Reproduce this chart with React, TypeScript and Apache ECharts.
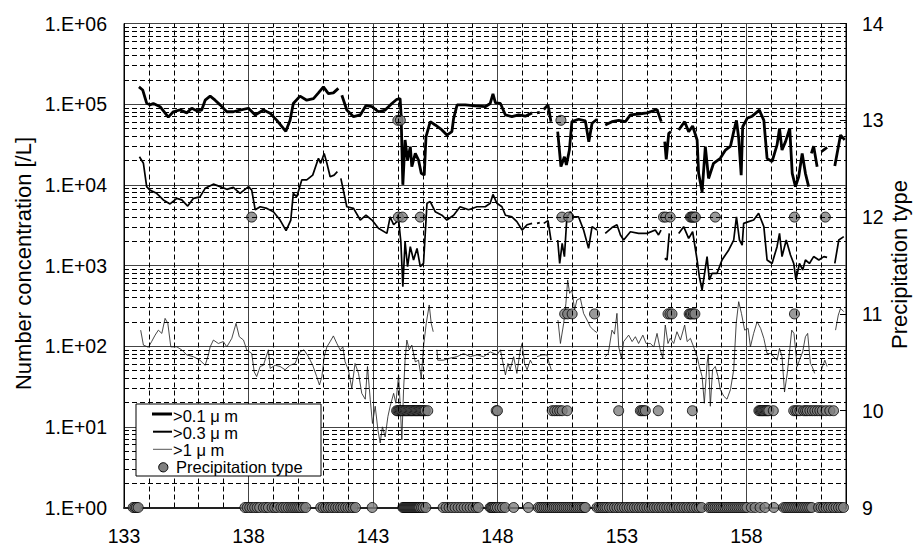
import React, { useEffect, useRef } from "react";
import * as echarts from "echarts";

// ---- axis settings ----
const xMin = 133;
const xMax = 162;
const xMajorStep = 5;
const yDecades = [1, 10, 100, 1000, 10000, 100000, 1000000];
const precipTicks = [9, 10, 11, 12, 13, 14];

// ---- >0.1 µm (time, number concentration [/L]); null = gap ----
const seriesA: [number, number | null][] = [
  [133.6, 1.64e5], [133.75, 1.5e5], [133.91, 1.03e5], [134.04, 9.8e4], [134.18, 1.02e5], [134.45, 9.3e4],
  [134.78, 6.9e4], [134.98, 8.05e4], [135.25, 8.5e4], [135.52, 7.8e4], [135.72, 8.9e4], [135.92, 8.3e4],
  [136.12, 8.45e4], [136.26, 1.12e5], [136.46, 1.26e5], [136.66, 1.12e5], [136.86, 9.8e4], [137.13, 8.05e4],
  [137.39, 8.05e4], [137.66, 8.45e4], [138.0, 8.9e4], [138.27, 7.35e4], [138.6, 8.45e4], [138.87, 7.7e4],
  [139.14, 6.3e4], [139.5, 4.6e4], [139.67, 6.3e4], [139.8, 1.02e5], [140.07, 1.26e5], [140.34, 1.12e5],
  [140.61, 1.17e5], [140.81, 1.38e5], [141.01, 1.64e5], [141.21, 1.35e5], [141.41, 1.38e5], [141.61, 1.57e5],
  [141.68, null], [141.75, 1.29e5], [141.95, 8.45e4], [142.22, 7.0e4], [142.49, 7.35e4], [142.72, 9.6e4],
  [142.96, 9.3e4], [143.22, 8.05e4], [143.49, 8.45e4], [143.76, 1.02e5], [143.96, 1.15e5], [144.09, 1.17e5],
  [144.13, 7.35e4], [144.2, 1.0e4], [144.29, 3.6e4], [144.39, 2.03e4], [144.5, 2.97e4], [144.56, 1.68e4],
  [144.7, 2.45e4], [144.83, 2.03e4], [144.94, 1.39e4], [145.06, 1.32e4], [145.13, 3.94e4], [145.3, 6.07e4],
  [145.5, 5.52e4], [145.77, 4.79e4], [145.97, 4.14e4], [146.17, 4.56e4], [146.24, 6.68e4], [146.38, 9.8e4],
  [146.71, 9.8e4], [147.11, 9.5e4], [147.51, 9.3e4], [147.71, 1.02e5], [147.82, 1.34e5], [147.92, 1.04e5],
  [148.12, 1.02e5], [148.32, 7.35e4], [148.58, 7.0e4], [148.85, 7.35e4], [149.12, 7.1e4], [149.39, 7.8e4],
  [149.48, null], [149.59, 7.8e4], [149.7, 7.9e4], [149.78, null], [149.86, 8.6e4], [150.03, 9.8e4],
  [150.15, 6.07e4], [150.3, null], [150.42, 4.56e4], [150.55, 1.68e4], [150.69, 2.23e4], [150.77, 1.76e4],
  [150.89, 2.7e4], [150.99, 6.07e4], [151.26, 6.5e4], [151.53, 6.2e4], [151.67, 3.43e4], [151.8, 5.8e4],
  [152.0, 6.5e4], [152.2, null], [152.33, 5.52e4], [152.6, 6.07e4], [152.87, 6.3e4], [153.14, 6.07e4],
  [153.34, 7.35e4], [153.67, 7.55e4], [154.01, 7.8e4], [154.41, 8.6e4], [154.58, 6.07e4], [154.65, null],
  [154.72, 3.43e4], [154.78, 2.07e4], [154.88, 4.35e4], [154.97, 4.57e4], [155.1, null], [155.28, 4.79e4],
  [155.52, 6.07e4], [155.68, 4.56e4], [155.84, 5.37e4], [156.02, 3.6e4], [156.08, 1.39e4], [156.22, 8.2e3],
  [156.35, 2.97e4], [156.48, 1.2e4], [156.68, 1.85e4], [156.95, 2.13e4], [157.16, 2.7e4], [157.36, 3.02e4],
  [157.49, 4.56e4], [157.6, 6.3e4], [157.69, 3.78e4], [157.79, 1.32e4], [157.85, 5.25e4], [158.03, 6.68e4],
  [158.23, 7.1e4], [158.52, 8.45e4], [158.7, 6.3e4], [158.83, 2.13e4], [159.03, 1.94e4], [159.23, 3.12e4],
  [159.33, 5.0e4], [159.43, 2.7e4], [159.57, 3.43e4], [159.74, 5.0e4], [159.84, 1.39e4], [159.97, 9.5e3],
  [160.1, 1.26e4], [160.24, 2.45e4], [160.37, 1.39e4], [160.5, 9.5e3], [160.55, null], [160.61, 2.45e4],
  [160.7, 3.02e4], [160.84, 1.68e4], [160.92, null], [161.01, 2.57e4], [161.24, 2.92e4], [161.4, null],
  [161.55, 1.71e4], [161.78, 4.14e4], [161.95, 3.6e4],
];

// ---- >0.3 µm ----
const seriesB: [number, number | null][] = [
  [133.62, 2.23e4], [133.78, 1.85e4], [133.91, 9.5e3], [134.04, 8.6e3], [134.31, 7.85e3], [134.58, 6.5e3],
  [134.85, 5.8e3], [135.12, 6.8e3], [135.32, 6.5e3], [135.56, 5.45e3], [135.79, 6.8e3], [136.05, 7.1e3],
  [136.26, 9.05e3], [136.59, 1.02e4], [136.86, 9.5e3], [137.13, 8.8e3], [137.39, 9.3e3], [137.66, 7.85e3],
  [138.0, 9.5e3], [138.13, 8.6e3], [138.27, 4.9e3], [138.47, 5.35e3], [138.74, 5.1e3], [139.0, 4.65e3],
  [139.27, 3.66e3], [139.51, 2.7e3], [139.7, 3.66e3], [139.8, 7.85e3], [139.94, 7.1e3], [140.14, 1.15e4],
  [140.34, 1.15e4], [140.58, 1.32e4], [140.81, 2.13e4], [140.9, 1.85e4], [141.04, 2.45e4], [141.15, 1.85e4],
  [141.28, 1.26e4], [141.44, 1.32e4], [141.57, 1.46e4], [141.64, null], [141.71, 1.2e4], [141.95, 5.35e3],
  [142.22, 5.1e3], [142.49, 3.66e3], [142.72, 4.2e3], [142.96, 3.66e3], [143.22, 2.9e3], [143.56, 2.5e3],
  [143.69, 4.0e3], [143.83, 3.2e3], [144.03, 3.66e3], [144.12, 1.97e3], [144.2, 546], [144.29, 1.97e3],
  [144.39, 966], [144.5, 1.71e3], [144.63, 1.17e3], [144.77, 1.63e3], [144.9, 966], [145.03, 1.06e3],
  [145.17, 5.9e3], [145.3, 6.2e3], [145.5, 4.65e3], [145.77, 4.2e3], [145.97, 3.66e3], [146.24, 4.2e3],
  [146.5, 5.35e3], [146.84, 4.9e3], [147.18, 5.35e3], [147.51, 5.35e3], [147.71, 5.9e3], [147.82, 7.6e3],
  [147.98, 5.9e3], [148.18, 5.35e3], [148.32, 4.2e3], [148.58, 4.0e3], [148.78, 3.5e3], [148.99, 2.75e3],
  [149.19, 3.2e3], [149.39, 3.33e3], [149.48, null], [149.59, 3.33e3], [149.7, 3.4e3], [149.78, null],
  [149.86, 3.33e3], [150.03, 3.6e3], [150.15, 2.07e3], [150.3, null], [150.42, 2.07e3], [150.5, 1.06e3],
  [150.6, 1.88e3], [150.69, 1.29e3], [150.79, 4.0e3], [150.93, 4.65e3], [151.06, 4.0e3], [151.26, 4.0e3],
  [151.46, 2.75e3], [151.66, 1.63e3], [151.8, 3.03e3], [152.0, 2.75e3], [152.2, null], [152.33, 2.5e3],
  [152.6, 2.95e3], [152.8, 3.2e3], [152.94, 2.39e3], [153.07, 2.07e3], [153.34, 2.62e3], [153.67, 2.5e3],
  [154.01, 2.5e3], [154.34, 2.75e3], [154.47, 2.39e3], [154.57, 2.75e3], [154.65, null], [154.72, 1.23e3],
  [154.81, 1.17e3], [154.9, 2.5e3], [155.1, null], [155.28, 2.5e3], [155.48, 3.03e3], [155.68, 2.17e3],
  [155.84, 2.62e3], [156.02, 1.17e3], [156.11, 726], [156.22, 497], [156.32, 800], [156.42, 1.29e3],
  [156.51, 661], [156.62, 800], [156.82, 800], [157.02, 1.17e3], [157.29, 1.56e3], [157.49, 2.07e3],
  [157.6, 4.0e3], [157.72, 2.07e3], [157.83, 1.79e3], [157.89, 3.33e3], [158.09, 3.5e3], [158.29, 3.66e3],
  [158.49, 4.44e3], [158.7, 3.03e3], [158.83, 1.17e3], [159.03, 1.06e3], [159.23, 1.71e3], [159.33, 2.5e3],
  [159.43, 1.29e3], [159.6, 2.07e3], [159.77, 1.35e3], [159.9, 1.06e3], [159.99, 661], [160.13, 1.06e3],
  [160.26, 880], [160.37, 1.17e3], [160.53, 1.06e3], [160.7, 1.29e3], [160.91, 1.17e3], [161.11, 1.29e3],
  [161.24, 1.26e3], [161.4, null], [161.55, 1.06e3], [161.71, 2.07e3], [161.91, 2.28e3],
];

// ---- >1 µm ----
const seriesC: [number, number | null][] = [
  [133.67, 158], [133.78, 103], [133.98, 97], [134.11, 114], [134.25, 137], [134.38, 158], [134.52, 144],
  [134.65, 221], [134.76, 192], [134.88, 98], [135.12, 98], [135.32, 90], [135.52, 78], [135.79, 74],
  [136.05, 67], [136.26, 58], [136.39, 78], [136.46, 98], [136.59, 119], [136.79, 108], [136.99, 114],
  [137.13, 98], [137.33, 125], [137.5, 192], [137.63, 131], [137.8, 119], [137.93, 90], [138.13, 81],
  [138.23, 48], [138.33, 42], [138.47, 56], [138.6, 58], [138.8, 90], [138.87, 53], [139.07, 58],
  [139.27, 56], [139.47, 51], [139.67, 58], [139.87, 61], [140.07, 85], [140.23, 90], [140.41, 74],
  [140.58, 58], [140.74, 42], [140.85, 33], [140.95, 42], [141.04, 74], [141.15, 98], [141.28, 114],
  [141.41, 134], [141.55, 108], [141.68, 90], [141.79, 98], [141.88, 64], [142.01, 51], [142.15, 30],
  [142.28, 61], [142.42, 46], [142.55, 26], [142.69, 22], [142.78, 56], [142.89, 22], [142.98, 11],
  [143.09, 18], [143.2, 9.1], [143.29, 6.3], [143.38, 10], [143.49, 7.5], [143.6, 13.4], [143.69, 18],
  [143.83, 26], [143.92, 19.6], [144.03, 44], [144.09, 19.6], [144.16, 6.9], [144.23, 29], [144.29, 67],
  [144.36, 119], [144.46, 90], [144.56, 103], [144.7, 64], [144.83, 67], [144.94, 40], [145.03, 98],
  [145.14, 192], [145.26, 324], [145.34, 192], [145.42, 151], [145.5, null], [145.57, 90], [145.6, 67],
  [145.83, 67], [146.1, 71], [146.37, 74], [146.64, 81], [146.91, 74], [147.18, 78], [147.44, 74],
  [147.71, 85], [147.98, 78], [148.12, 90], [148.2, 67], [148.32, 44], [148.42, 61], [148.51, 51],
  [148.65, 74], [148.78, 46], [148.92, 90], [148.99, 108], [149.09, 61], [149.19, 51], [149.32, 67],
  [149.39, 61], [149.48, null], [149.59, 74], [149.79, 78], [149.99, 78], [150.08, 61], [150.16, 51],
  [150.3, null], [150.43, 211], [150.53, 108], [150.66, 192], [150.75, 340], [150.82, 661], [150.9, 452],
  [150.99, 497], [151.1, 281], [151.19, 373], [151.33, 392], [151.46, 255], [151.6, 211], [151.73, 174],
  [151.86, 158], [152.0, 147], [152.2, null], [152.33, 74], [152.45, 81], [152.6, 158], [152.7, 141],
  [152.8, 255], [152.87, 98], [152.98, 71], [153.07, 114], [153.27, 137], [153.41, 114], [153.54, 131],
  [153.67, 108], [153.84, 137], [153.97, 108], [154.14, 108], [154.28, 98], [154.41, 144], [154.54, 90],
  [154.64, 71], [154.74, 183], [154.85, 108], [154.94, 125], [155.08, 108], [155.21, 151], [155.35, 119],
  [155.52, 183], [155.62, 114], [155.75, 125], [155.88, 98], [156.02, 74], [156.11, 56], [156.22, 42],
  [156.31, 19.6], [156.42, 61], [156.47, 79], [156.55, 18], [156.64, 51], [156.75, 56], [156.86, 42],
  [156.95, 29], [157.09, 24], [157.22, 22], [157.36, 29], [157.49, 51], [157.59, 192], [157.69, 356],
  [157.8, 255], [157.93, 158], [158.07, 166], [158.16, 98], [158.29, 144], [158.43, 201], [158.57, 166],
  [158.7, 125], [158.83, 81], [158.97, 81], [159.1, 74], [159.23, 67], [159.33, 94], [159.43, 74],
  [159.53, 27], [159.64, 46], [159.74, 90], [159.82, 158], [159.91, 144], [160.04, 56], [160.13, 67],
  [160.26, 85], [160.37, 131], [160.46, 144], [160.57, 61], [160.64, 56], [160.74, 46], [160.85, null],
  [161.01, 51], [161.15, 67], [161.24, 56], [161.4, null], [161.58, 158], [161.69, 243], [161.78, 294],
  [161.91, 268],
];

// ---- precipitation type observations (times for each type value) ----
const type9Times = [
  133.37, 133.44, 133.5, 133.57,
  137.86, 137.95, 138.05, 138.15, 138.25, 138.35, 138.45, 138.6, 138.7, 138.8, 138.95, 139.05, 139.15,
  139.3, 139.4, 139.5, 139.6, 139.7, 139.78, 139.86, 139.94, 140.02, 140.1, 140.2, 140.3,
  140.9, 141.0, 141.1, 141.2, 141.3, 141.4, 141.5, 141.6, 141.7, 141.8, 141.9, 142.0, 142.1, 142.2, 142.3,
  142.97,
  144.2, 144.24, 144.28, 144.32, 144.36, 144.4, 144.44, 144.48, 144.52, 144.56, 144.6, 144.64, 144.68,
  144.72, 144.76, 144.8, 144.84, 144.88, 144.95, 145.02, 145.12,
  145.82, 145.94, 146.06, 146.18, 146.3, 146.42, 146.54, 146.66, 146.78, 146.9, 147.02, 147.14, 147.23,
  147.71, 147.76, 147.81, 147.86, 147.92, 148.0, 148.1, 148.2, 148.31,
  148.65, 149.24,
  149.64, 149.72, 149.8, 149.88, 149.96, 150.04, 150.12, 150.2, 150.28, 150.36, 150.44, 150.52, 150.6,
  150.68, 150.76, 150.84, 150.92, 151.0, 151.08, 151.16, 151.24, 151.32, 151.4, 151.48, 151.53,
  152.0, 152.08, 152.16, 152.24, 152.32, 152.4, 152.5, 152.6, 152.7, 152.8, 152.9, 153.0, 153.1, 153.2,
  153.3, 153.4, 153.5, 153.6, 153.7, 153.8, 153.9, 154.0, 154.1, 154.2, 154.3, 154.4, 154.5, 154.6,
  154.7, 154.8, 154.9, 155.0, 155.1, 155.2, 155.3, 155.4, 155.5, 155.6, 155.7, 155.8, 155.9, 156.0,
  156.1, 156.2, 156.5, 156.58, 156.66, 156.74, 156.82, 156.9, 156.98, 157.06, 157.14, 157.22, 157.3,
  157.38, 157.46, 157.54, 157.62, 157.7, 157.78, 157.86, 157.94, 158.02, 158.2, 158.35, 158.55, 158.75,
  159.1,
  159.5, 159.58, 159.66, 159.74, 159.82, 159.9, 159.98, 160.06, 160.14, 160.22, 160.3, 160.38, 160.46,
  160.54, 160.62,
  160.9, 161.0, 161.1, 161.2, 161.3, 161.4, 161.5, 161.6, 161.7, 161.8, 161.9,
];
const type10Times = [
  143.95, 144.0, 144.05, 144.1, 144.15, 144.2, 144.25, 144.3, 144.35, 144.4, 144.45, 144.5, 144.55,
  144.6, 144.65, 144.7, 144.75, 144.8, 144.85, 144.9, 144.95, 145.0, 145.05, 145.1, 145.2,
  147.95, 148.0,
  150.2, 150.3, 150.4, 150.5, 150.6, 150.8,
  152.87, 153.74, 153.8, 153.87, 153.94, 154.46, 155.83,
  158.5, 158.55, 158.6, 158.65, 158.7, 158.75, 158.8, 158.85, 158.9, 159.08,
  159.9, 159.98, 160.05, 160.15, 160.3, 160.38, 160.45, 160.55, 160.65, 160.75, 160.85, 160.95, 161.05,
  161.2, 161.35, 161.5,
];
const type11Times = [150.7, 150.82, 151.0, 151.9, 154.85, 154.93, 155.01, 155.7, 155.75, 155.8, 155.87, 155.93, 159.93];
const type12Times = [138.13, 144.02, 144.18, 144.9, 150.59, 150.86, 154.67, 154.76, 154.94, 155.75, 155.8, 155.85, 155.9, 155.95, 156.75, 159.93, 161.17];
const type13Times = [144.0, 144.1, 150.55];
const precipLevels: [number, number[]][] = [
  [9, type9Times],
  [10, type10Times],
  [11, type11Times],
  [12, type12Times],
  [13, type13Times],
];

const FONT = "'Liberation Sans', Arial, Helvetica, sans-serif";
const LZ = 100;

export default function App() {
  const ref = useRef<HTMLDivElement>(null);

  useEffect(() => {
    if (!ref.current) return;
    const chart = echarts.init(ref.current, null, { renderer: "svg" });

    const toLine = (s: [number, number | null][]) => s.map(([t, v]) => [t, v == null ? "-" : v]);

    // minor grid positions (dashed), excluding positions of major lines
    const xMinor: number[] = [];
    for (let t = xMin + 1; t < xMax; t++) {
      if ((t - xMin) % xMajorStep !== 0) xMinor.push(t);
    }
    const yMinor: number[] = [];
    for (let k = 0; k < yDecades.length - 1; k++) {
      for (let m = 2; m <= 9; m++) yMinor.push(m * yDecades[k]);
    }

    const precipData: number[][] = [];
    precipLevels.forEach(([lvl, times]) => times.forEach((t) => precipData.push([t, lvl])));

    const legendX = 136;
    const legendY = 404;
    const legendText = (text: string, x: number, y: number) => ({
      type: "text",
      z: LZ + 2,
      x,
      y,
      style: { text, fontSize: 16.5, fontFamily: FONT, fill: "#000", verticalAlign: "middle" },
    });

    chart.setOption({
      animation: false,
      backgroundColor: "#ffffff",
      textStyle: { fontFamily: FONT },
      grid: {
        left: 124,
        right: 68,
        top: 23.5,
        bottom: 37.5,
        containLabel: false,
        outerBoundsMode: "none",
        show: true,
        borderColor: "#000",
        borderWidth: 1,
        backgroundColor: "transparent",
      },
      xAxis: [
        {
          type: "value",
          min: xMin,
          max: xMax,
          interval: xMajorStep,
          axisLine: { show: true, lineStyle: { color: "#222", width: 2 } },
          axisTick: { show: false },
          axisLabel: {
            color: "#000",
            fontSize: 19.5,
            fontFamily: FONT,
            margin: 18,
            showMaxLabel: false,
          },
          splitLine: { show: true, lineStyle: { color: "#444", width: 1, type: "solid" } },
        },
      ],
      yAxis: [
        {
          type: "log",
          logBase: 10,
          min: 1,
          max: 1000000,
          splitNumber: 6,
          axisLine: { show: true, lineStyle: { color: "#000", width: 1 } },
          axisTick: { show: false },
          axisLabel: {
            color: "#000",
            fontSize: 19.5,
            fontFamily: FONT,
            margin: 17,
            formatter: (v: number) => {
              const e = Math.round(Math.log10(v));
              return "1.E+" + (e < 10 ? "0" : "") + e;
            },
          },
          splitLine: { show: true, lineStyle: { color: "#444", width: 1, type: "solid" } },
        },
        {
          type: "value",
          position: "right",
          min: precipTicks[0],
          max: precipTicks[precipTicks.length - 1],
          interval: 1,
          axisLine: { show: true, lineStyle: { color: "#000", width: 1 } },
          axisTick: { show: true, inside: true, length: 6, lineStyle: { color: "#000" } },
          axisLabel: { color: "#000", fontSize: 19.5, fontFamily: FONT, margin: 16 },
          splitLine: { show: false },
        },
      ],
      series: [
        {
          name: "minor-grid",
          type: "line",
          xAxisIndex: 0,
          yAxisIndex: 0,
          z: 1,
          data: [[xMin, 1]],
          symbol: "none",
          lineStyle: { opacity: 0 },
          silent: true,
          markLine: {
            silent: true,
            symbol: ["none", "none"],
            label: { show: false },
            animation: false,
            lineStyle: { color: "#000", width: 1, type: [5, 3] },
            emphasis: { disabled: true },
            data: [...xMinor.map((x) => ({ xAxis: x })), ...yMinor.map((y) => ({ yAxis: y }))],
          },
        },
        {
          name: ">0.1 μ m",
          type: "line",
          xAxisIndex: 0,
          yAxisIndex: 0,
          data: toLine(seriesA),
          symbol: "none",
          showSymbol: false,
          connectNulls: false,
          lineStyle: { color: "#000", width: 2.8 },
          z: 3,
        },
        {
          name: ">0.3 μ m",
          type: "line",
          xAxisIndex: 0,
          yAxisIndex: 0,
          data: toLine(seriesB),
          symbol: "none",
          showSymbol: false,
          connectNulls: false,
          lineStyle: { color: "#000", width: 1.7 },
          z: 3,
        },
        {
          name: ">1 μ m",
          type: "line",
          xAxisIndex: 0,
          yAxisIndex: 0,
          data: toLine(seriesC),
          symbol: "none",
          showSymbol: false,
          connectNulls: false,
          lineStyle: { color: "#1a1a1a", width: 0.8 },
          z: 3,
        },
        {
          name: "Precipitation type",
          type: "scatter",
          xAxisIndex: 0,
          yAxisIndex: 1,
          data: precipData,
          symbol: "circle",
          symbolSize: 10,
          itemStyle: { color: "#808080", borderColor: "#000", borderWidth: 1 },
          z: 4,
        },
      ],
      graphic: [
        {
          type: "text",
          z: LZ,
          x: 23,
          y: 263.5,
          rotation: Math.PI / 2,
          style: {
            text: "Number concentration [/L]",
            fontSize: 22,
            fontFamily: FONT,
            fill: "#000",
            align: "center",
            verticalAlign: "middle",
          },
        },
        {
          type: "text",
          z: LZ,
          x: 899,
          y: 264.5,
          rotation: Math.PI / 2,
          style: {
            text: "Precipitation type",
            fontSize: 22,
            fontFamily: FONT,
            fill: "#000",
            align: "center",
            verticalAlign: "middle",
          },
        },
        {
          type: "rect",
          z: LZ,
          shape: { x: legendX, y: legendY, width: 185, height: 72 },
          style: { fill: "#fff", stroke: "#000", lineWidth: 1 },
        },
        {
          type: "line",
          z: LZ + 1,
          shape: { x1: 152, y1: 414, x2: 172, y2: 414 },
          style: { stroke: "#000", lineWidth: 3 },
        },
        legendText(">0.1 μ m", 173, 416),
        {
          type: "line",
          z: LZ + 1,
          shape: { x1: 153, y1: 431.7, x2: 172, y2: 431.7 },
          style: { stroke: "#000", lineWidth: 2 },
        },
        legendText(">0.3 μ m", 173, 433.3),
        {
          type: "line",
          z: LZ + 1,
          shape: { x1: 153, y1: 449.3, x2: 172, y2: 449.3 },
          style: { stroke: "#555", lineWidth: 1 },
        },
        legendText(">1 μ m", 173, 450.3),
        {
          type: "circle",
          z: LZ + 1,
          shape: { cx: 163.3, cy: 467.3, r: 4.6 },
          style: { fill: "#808080", stroke: "#000", lineWidth: 1 },
        },
        legendText("Precipitation type", 176, 466.8),
      ],
    });

    return () => {
      chart.dispose();
    };
  }, []);

  return (
    <div
      ref={ref}
      style={{ position: "absolute", left: 0, top: 0, width: 914, height: 545, background: "#fff" }}
    />
  );
}
